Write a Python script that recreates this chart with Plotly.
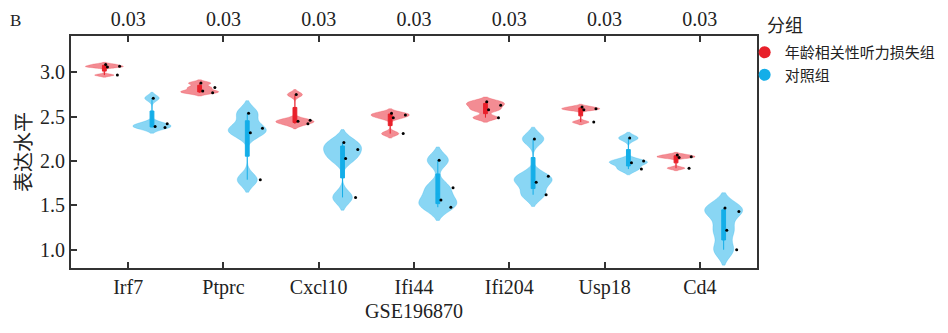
import numpy as np
import plotly.graph_objects as go

genes = ["Irf7", "Ptprc", "Cxcl10", "Ifi44", "Ifi204", "Usp18", "Cd4"]
pvals = ["0.03", "0.03", "0.03", "0.03", "0.03", "0.03", "0.03"]

ahl_name = "年龄相关性听力损失组"
ctrl_name = "对照组"

ahl_values = {
    "Irf7":   [3.09, 3.07, 3.06, 2.97],
    "Ptprc":  [2.88, 2.83, 2.79, 2.77],
    "Cxcl10": [2.75, 2.46, 2.45, 2.42],
    "Ifi44":  [2.54, 2.52, 2.49, 2.31],
    "Ifi204": [2.67, 2.63, 2.58, 2.49],
    "Usp18":  [2.61, 2.59, 2.58, 2.44],
    "Cd4":    [2.07, 2.05, 2.04, 1.92],
}
ctrl_values = {
    "Irf7":   [2.71, 2.42, 2.39, 2.38],
    "Ptprc":  [2.54, 2.37, 2.32, 1.79],
    "Cxcl10": [2.21, 2.13, 2.03, 1.59],
    "Ifi44":  [2.01, 1.70, 1.56, 1.48],
    "Ifi204": [2.25, 1.83, 1.76, 1.62],
    "Usp18":  [2.26, 2.00, 1.98, 1.91],
    "Cd4":    [1.47, 1.43, 1.22, 1.00],
}

RED = "#E8202A"
RED_FILL = "rgba(236,70,80,0.62)"
BLUE = "#14AEE8"
BLUE_FILL = "rgba(40,180,235,0.55)"

SERIF = "Liberation Serif, Noto Sans CJK SC, serif"
CJK = "Noto Sans CJK SC, sans-serif"
TXT = "#222222"


def nrd0(v):
    v = np.asarray(v, dtype=float)
    sd = v.std(ddof=1)
    q1, q3 = np.percentile(v, [25, 75])
    lo = min(sd, (q3 - q1) / 1.34)
    if lo <= 0:
        lo = sd
    return 0.9 * lo * len(v) ** -0.2


fig = go.Figure()

for g in genes:
    for name, vals, line_c, fill_c, grp in [
        (ahl_name, ahl_values[g], RED, RED_FILL, "ahl"),
        (ctrl_name, ctrl_values[g], BLUE, BLUE_FILL, "ctrl"),
    ]:
        fig.add_trace(go.Violin(
            x=[g] * len(vals), y=vals, name=name,
            legendgroup=grp, showlegend=False,
            offsetgroup=grp, alignmentgroup="all",
            scalegroup=f"{grp}-{g}", scalemode="width",
            bandwidth=0.62 * nrd0(vals), spanmode="soft",
            fillcolor=fill_c, line=dict(color=fill_c, width=0.5),
            box=dict(visible=True, width=0.1, fillcolor=line_c,
                     line=dict(color=line_c, width=1)),
            meanline=dict(visible=False),
            points="all", pointpos=0.45, jitter=0.45,
            marker=dict(color="black", size=3),
            hoverinfo="y",
        ))

for name, c, grp in [(ahl_name, RED, "ahl"), (ctrl_name, BLUE, "ctrl")]:
    fig.add_trace(go.Scatter(
        x=[None], y=[None], mode="markers", name=name, legendgroup=grp,
        marker=dict(color=c, size=12), showlegend=True,
    ))

# invisible carrier so that the top (p-value) axis is drawn
fig.add_trace(go.Scatter(
    x=list(range(len(genes))), y=[None] * len(genes), xaxis="x2", yaxis="y",
    mode="markers", showlegend=False, hoverinfo="skip",
))

axis_line = dict(showline=True, linecolor="#333333", linewidth=2,
                 ticks="inside", ticklen=6, tickwidth=2, tickcolor="#333333",
                 showgrid=False, zeroline=False, automargin=False)

fig.update_layout(
    width=940, height=325,
    margin=dict(l=63, r=191, t=28, b=65, autoexpand=False),
    paper_bgcolor="white", plot_bgcolor="white",
    violinmode="group", violingap=0, violingroupgap=0.2,
    xaxis=dict(type="category", categoryorder="array", categoryarray=genes,
               range=[-0.6, 6.6],
               tickfont=dict(family=SERIF, size=20, color=TXT),
               title=dict(text="GSE196870", font=dict(family=SERIF, size=20, color=TXT),
                          standoff=6),
               **axis_line),
    xaxis2=dict(overlaying="x", side="top", range=[-0.6, 6.6],
                tickmode="array", tickvals=list(range(len(genes))), ticktext=pvals,
                tickfont=dict(family=SERIF, size=20, color=TXT),
                **axis_line),
    yaxis=dict(range=[0.794, 3.411], tickvals=[1.0, 1.5, 2.0, 2.5, 3.0], tickformat=".1f",
               mirror=True,
               tickfont=dict(family=SERIF, size=20, color=TXT),
               title=dict(text="表达水平", font=dict(family=CJK, size=20, color=TXT),
                          standoff=20),
               **axis_line),
    legend=dict(x=0.982, xanchor="left", y=1.0, yanchor="top",
                font=dict(family=CJK, size=15, color=TXT),
                bgcolor="rgba(0,0,0,0)", itemsizing="constant",
                tracegroupgap=0),
    showlegend=True,
    annotations=[
        dict(text="B", x=-0.092, y=1.117, xref="paper", yref="paper",
             xanchor="left", yanchor="top", showarrow=False,
             font=dict(family=SERIF, size=17, color=TXT)),
        dict(text="分组", x=1.011, y=1.117, xref="paper", yref="paper",
             xanchor="left", yanchor="top", showarrow=False,
             font=dict(family=CJK, size=18, color=TXT)),
    ],
)

fig.write_html("out.html")
